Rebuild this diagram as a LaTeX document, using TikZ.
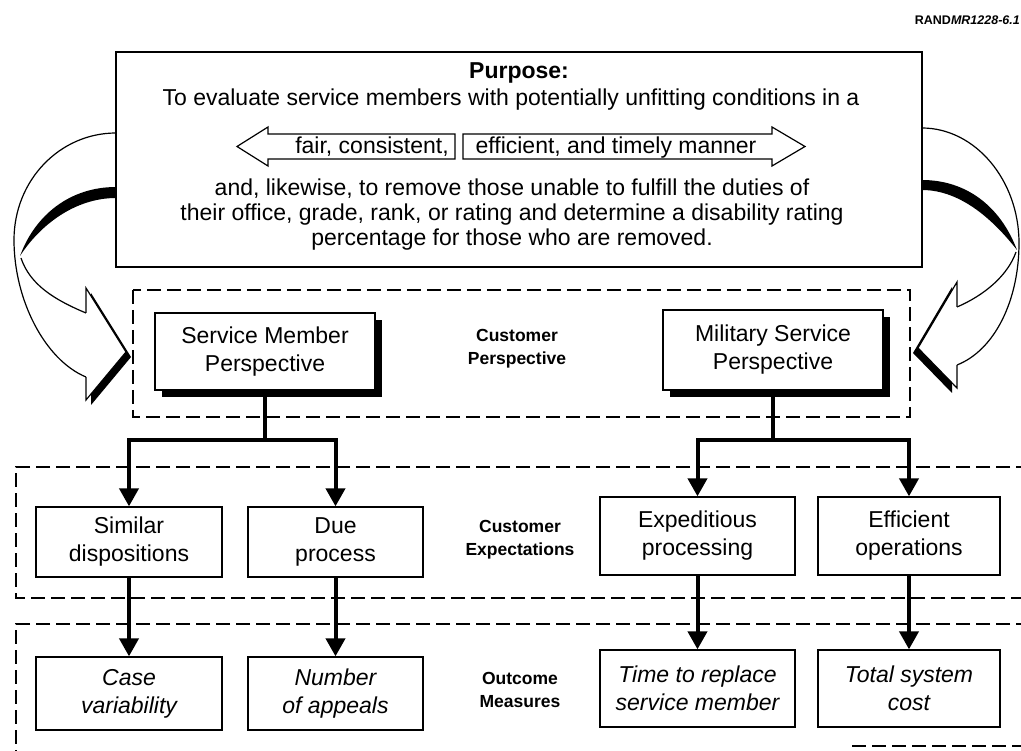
\documentclass[tikz,border=0pt]{standalone}
\usepackage{fontspec}
\setmainfont{Liberation Sans}
\usetikzlibrary{arrows.meta,shadows}

\begin{document}
\begin{tikzpicture}[x=1pt,y=-1pt,
  box/.style={draw, line width=1.3pt, fill=white, inner sep=0pt, align=center,
              font=\fontsize{23}{28}\selectfont},
  itbox/.style={box, font=\itshape\fontsize{23}{28}\selectfont},
  shadowbox/.style={box, drop shadow={shadow xshift=7pt, shadow yshift=-7pt, opacity=1, fill=black}},
  lab/.style={font=\bfseries\fontsize{17.5}{23}\selectfont, align=center},
  ptext/.style={font=\fontsize{23}{25}\selectfont, align=center, inner sep=0pt},
  grp/.style={draw, line width=1.2pt, dash pattern=on 14pt off 6pt},
  link/.style={line width=4pt, line join=miter},
  arr/.style={link, -{Triangle[width=19pt,length=18pt]}},
  band/.style={line width=1.2pt},
]
\useasboundingbox (0,0) rectangle (1021,751);

% report tag
\node[anchor=east, inner sep=0pt, font=\bfseries\fontsize{12.5}{14}\selectfont] (tag) at (1020,20) {RAND\textit{MR1228-6.1}};

% ---- left curved block arrow ----
\draw[band] (116,133) .. controls (60,133) and (14,180) .. (14,240)
            .. controls (14,300) and (45,360) .. (86,377);
\draw[band] (86,313) .. controls (55,300) and (30,285) .. (21,258);
\fill (116,187) .. controls (70,187) and (35,215) .. (20,256)
      .. controls (40,225) and (75,198) .. (116,198) -- cycle;
\fill (91,293) -- (131,357) -- (91,405) -- cycle;
\fill[white] (86,288) -- (126,352) -- (86,400) -- cycle;
\draw[band, line join=miter] (86,313) -- (86,288) -- (126,352) -- (86,400) -- (86,377);

% ---- right curved block arrow ----
\draw[band] (922,128) .. controls (975,128) and (1019,180) .. (1019,243)
            .. controls (1019,300) and (995,350) .. (957,365);
\draw[band] (957,307) .. controls (985,295) and (1008,275) .. (1016,252);
\fill (922,180) .. controls (965,180) and (1000,205) .. (1017,250)
      .. controls (995,222) and (962,190) .. (922,190) -- cycle;
\fill (952,287) -- (913,353) -- (952,393) -- cycle;
\fill[white] (957,282) -- (918,348) -- (957,388) -- cycle;
\draw[band, line join=miter] (957,307) -- (957,282) -- (918,348) -- (957,388) -- (957,365);

% ---- purpose box ----
\node[draw, line width=1.3pt, fill=white, minimum width=806pt, minimum height=215pt,
      inner sep=0pt] (purpose) at (519,159.5) {};
\node[ptext, font=\bfseries\fontsize{23}{25}\selectfont] (ptitle) at (519,73) {Purpose:};
\node[ptext] (pline) at (511,100) {To evaluate service members with potentially unfitting conditions in a};
\draw[band, line join=miter] (455,134) -- (268,134) -- (268,127) -- (237,146.5) -- (268,166)
      -- (268,159) -- (455,159) -- cycle;
\draw[band, line join=miter] (463,134) -- (772,134) -- (772,127) -- (805,146.5) -- (772,166)
      -- (772,159) -- (463,159) -- cycle;
\node[ptext, anchor=base] (fair) at (372,154) {fair, consistent,};
\node[ptext, anchor=base] (effic) at (616,154) {efficient, and timely manner};
\node[ptext] (prest) at (512,215) {and, likewise, to remove those unable to fulfill the duties of\\
  their office, grade, rank, or rating and determine a disability rating\\
  percentage for those who are removed.};

% ---- dashed groups ----
\draw[grp] (133,290) rectangle (910,417);
\draw[grp] (1030,467) -- (16,467) -- (16,598) -- (1030,598);
\draw[grp] (1030,624) -- (16,624) -- (16,760);
\draw[grp] (852,746) -- (1030,746);

% ---- perspectives ----
\node[shadowbox, minimum width=220pt, minimum height=77pt] (sm) at (265,351.5) {Service Member\\Perspective};
\node[shadowbox, minimum width=220pt, minimum height=80pt] (ms) at (773,350) {Military Service\\Perspective};
\node[lab] (custp) at (517,349) {Customer\\Perspective};

% ---- expectations ----
\node[box, minimum width=186pt, minimum height=70pt] (sim) at (129,542) {Similar\\dispositions};
\node[box, minimum width=175pt, minimum height=70pt] (due) at (335.5,542) {Due\\process};
\node[box, minimum width=195pt, minimum height=78pt] (exp) at (697.5,536) {Expeditious\\processing};
\node[box, minimum width=182pt, minimum height=78pt] (eff) at (909,536) {Efficient\\operations};
\node[lab] (custe) at (520,540) {Customer\\Expectations};

% ---- outcome measures ----
\node[itbox, minimum width=186pt, minimum height=73pt] (case) at (129,693.5) {Case\\variability};
\node[itbox, minimum width=175pt, minimum height=73pt] (appe) at (335.5,693.5) {Number\\of appeals};
\node[itbox, minimum width=195pt, minimum height=77pt] (time) at (697.5,688.5) {Time to replace\\service member};
\node[itbox, minimum width=182pt, minimum height=77pt] (cost) at (909,688.5) {Total system\\cost};
\node[lab] (outm) at (520,690) {Outcome\\Measures};

% ---- connectors ----
\draw[link] (sm.south) -- (sm.south |- 0,440) coordinate (jl);
\draw[arr] (jl) -| (sim.north);
\draw[arr] (jl) -| (due.north);
\draw[link] (ms.south) -- (ms.south |- 0,440) coordinate (jr);
\draw[arr] (jr) -| (exp.north);
\draw[arr] (jr) -| (eff.north);
\draw[arr] (sim.south) -- (case.north);
\draw[arr] (due.south) -- (appe.north);
\draw[arr] (exp.south) -- (time.north);
\draw[arr] (eff.south) -- (cost.north);
\end{tikzpicture}
\end{document}
